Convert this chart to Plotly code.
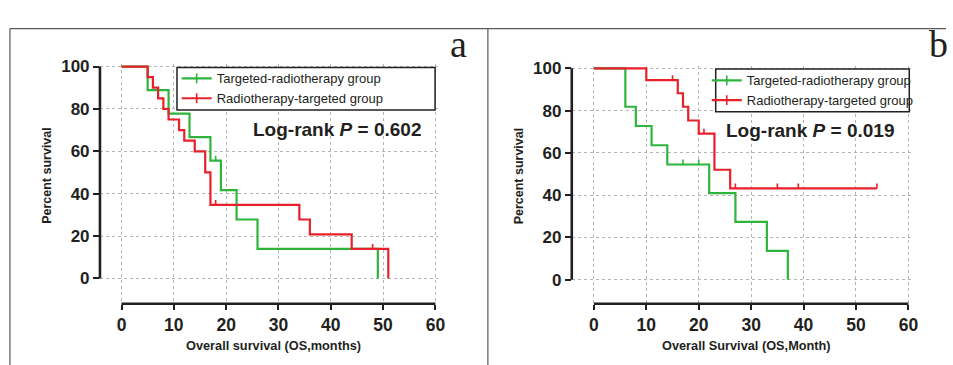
import plotly.graph_objects as go

W, H = 953, 365

# ---------------- data ----------------
# Panel a
a_green_t = [0, 5, 9, 13, 17, 19, 22, 26, 49]
a_green_s = [100, 88.9, 77.8, 66.7, 55.6, 41.7, 27.8, 13.9, 0]
a_green_cens_t = [18]
a_green_cens_s = [55.6]

a_red_t = [0, 5, 6, 7, 8, 9, 11, 12, 14, 16, 17, 34, 36, 44, 51]
a_red_s = [100, 95, 90, 85, 80, 75, 70, 65, 60, 50, 34.7, 27.8, 20.8, 13.9, 0]
a_red_cens_t = [18, 48]
a_red_cens_s = [34.7, 13.9]

# Panel b
b_green_t = [0, 6, 8, 11, 14, 22, 27, 33, 37]
b_green_s = [100, 81.8, 72.7, 63.6, 54.5, 40.9, 27.3, 13.6, 0]
b_green_cens_t = [17, 20]
b_green_cens_s = [54.5, 54.5]

b_red_t = [0, 10, 16, 17, 18, 20, 23, 26, 54]
b_red_s = [100, 94.4, 88.2, 81.8, 75.3, 69.1, 52.0, 43.2, 43.2]
b_red_cens_t = [15, 21, 27, 35, 39, 54]
b_red_cens_s = [94.4, 69.1, 43.2, 43.2, 43.2, 43.2]

series_names = ["Targeted-radiotherapy group", "Radiotherapy-targeted group"]
x_ticks = [0, 10, 20, 30, 40, 50, 60]
y_ticks = [0, 20, 40, 60, 80, 100]
pvals = ["0.602", "0.019"]
x_titles = ["Overall survival (OS,months)", "Overall Survival (OS,Month)"]
y_title = "Percent survival"
panel_letters = ["a", "b"]

# ---------------- styles ----------------
GREEN = "#2eb43c"
RED = "#e8202a"
INK = "#231f20"
GRID = "#b5b5b5"
SANS = "Liberation Sans, Arial, sans-serif"
SERIF = "Liberation Serif, Times New Roman, serif"


def px_x(p):
    return p / W


def px_y(p):
    return (H - p) / H


fig = go.Figure()

panels = [
    dict(xa="x", ya="y", green=(a_green_t, a_green_s, a_green_cens_t, a_green_cens_s),
         red=(a_red_t, a_red_s, a_red_cens_t, a_red_cens_s), legend="legend"),
    dict(xa="x2", ya="y2", green=(b_green_t, b_green_s, b_green_cens_t, b_green_cens_s),
         red=(b_red_t, b_red_s, b_red_cens_t, b_red_cens_s), legend="legend2"),
]

for p in panels:
    for (t, s, ct, cs), col, name in [(p["green"], GREEN, series_names[0]), (p["red"], RED, series_names[1])]:
        fig.add_trace(go.Scatter(x=t, y=s, mode="lines", line=dict(color=col, width=2.2, shape="hv"),
                                 xaxis=p["xa"], yaxis=p["ya"], showlegend=False, hoverinfo="skip"))
        fig.add_trace(go.Scatter(x=ct, y=cs, mode="markers",
                                 marker=dict(size=2, color="rgba(0,0,0,0)"),
                                 error_y=dict(type="data", symmetric=False, array=[2.3] * len(ct),
                                              arrayminus=[0] * len(ct), width=0, thickness=1.6, color=col),
                                 xaxis=p["xa"], yaxis=p["ya"], showlegend=False, hoverinfo="skip"))
        # legend entry (no data drawn)
        fig.add_trace(go.Scatter(x=[None], y=[None], mode="lines+markers", name=name,
                                 line=dict(color=col, width=2.2),
                                 marker=dict(symbol="line-ns-open", size=7, color=col, line=dict(width=1.6, color=col)),
                                 xaxis=p["xa"], yaxis=p["ya"], legend=p["legend"]))

# axis geometry (pixels)
geo = [
    dict(x0=122.4, sx=5.27, xl=100.7, y0=276.7, sy=2.16, yb=302.5),
    dict(x0=598.3, sx=5.28, xl=576.0, y0=278.0, sy=2.155, yb=302.5),
]

layout = dict(width=W, height=H, autosize=False, margin=dict(l=0, r=0, t=0, b=0),
              paper_bgcolor="white", plot_bgcolor="white", showlegend=True)

shapes = []
annotations = []
for i, g in enumerate(geo):
    xmin = (g["xl"] - g["x0"]) / g["sx"]
    xmax = 60.5
    right_px = g["x0"] + xmax * g["sx"]
    ymin = (g["y0"] - g["yb"]) / g["sy"]
    ymax = 101
    top_px = g["y0"] - ymax * g["sy"]
    xk = "xaxis" if i == 0 else "xaxis2"
    yk = "yaxis" if i == 0 else "yaxis2"
    xref = "x" if i == 0 else "x2"
    yref = "y" if i == 0 else "y2"
    layout[xk] = dict(domain=[px_x(g["xl"]), px_x(right_px)], range=[xmin, xmax], anchor=yref,
                      tickvals=x_ticks, ticks="outside", ticklen=5, tickwidth=2, tickcolor=INK,
                      showline=False, zeroline=False, showgrid=True, gridcolor=GRID, griddash="dot",
                      gridwidth=1,
                      tickfont=dict(family=SANS, size=17.5, color=INK, weight="bold"),
                      fixedrange=True)
    layout[yk] = dict(domain=[px_y(g["yb"]), px_y(top_px)], range=[ymin, ymax], anchor=xref,
                      tickvals=y_ticks, ticks="outside", ticklen=6, tickwidth=2, tickcolor=INK,
                      showline=False, zeroline=False, showgrid=True, gridcolor=GRID, griddash="dot",
                      gridwidth=1, tickfont=dict(family=SANS, size=17, color=INK, weight="bold"),
                      fixedrange=True)
    # offset axis lines spanning only the data range
    shapes.append(dict(type="line", xref=xref, yref=f"{yref} domain", x0=0, x1=60, y0=0, y1=0,
                       line=dict(color=INK, width=2.6), layer="above"))
    shapes.append(dict(type="line", xref=f"{xref} domain", yref=yref, x0=0, x1=0, y0=0, y1=100,
                       line=dict(color=INK, width=2.6), layer="above"))

# legend boxes
boxes = [(178.3, 61.7, 438.3, 105.0), (721.0, 63.3, 916.0, 106.7)]
for (l, t, r, b) in boxes:
    shapes.append(dict(type="rect", xref="paper", yref="paper", x0=px_x(l), x1=px_x(r), y0=px_y(b), y1=px_y(t),
                       line=dict(color=INK, width=1.5), fillcolor="white", layer="above"))

layout["legend"] = dict(x=px_x(178), y=px_y(57.5), xanchor="left", yanchor="top", bgcolor="rgba(0,0,0,0)",
                        borderwidth=0, font=dict(family=SANS, size=13, color=INK), tracegroupgap=0)
layout["legend2"] = dict(x=px_x(712), y=px_y(59.5), xanchor="left", yanchor="top", bgcolor="rgba(0,0,0,0)",
                         borderwidth=0, font=dict(family=SANS, size=13, color=INK), tracegroupgap=0)

# log-rank texts
for (xl, yc, p) in [(252.7, 125, pvals[0]), (729, 126, pvals[1])]:
    annotations.append(dict(xref="paper", yref="paper", x=px_x(xl), y=px_y(yc), xanchor="left", yanchor="middle",
                            text=f"Log-rank <i>P</i> = {p}", showarrow=False,
                            font=dict(family=SANS, size=19, color=INK, weight="bold")))

# axis titles
for (xc, title) in [(276, x_titles[0]), (752, x_titles[1])]:
    annotations.append(dict(xref="paper", yref="paper", x=px_x(xc), y=px_y(345), xanchor="center", yanchor="middle",
                            text=title, showarrow=False,
                            font=dict(family=SANS, size=12.75, color=INK, weight="bold")))
for xc in [47.5, 522.5]:
    annotations.append(dict(xref="paper", yref="paper", x=px_x(xc), y=px_y(172), xanchor="center", yanchor="middle",
                            text=y_title, textangle=-90, showarrow=False,
                            font=dict(family=SANS, size=12.5, color=INK, weight="bold")))

# panel letters
for (xc, letter) in [(462, panel_letters[0]), (945, panel_letters[1])]:
    annotations.append(dict(xref="paper", yref="paper", x=px_x(xc), y=px_y(61), xanchor="center", yanchor="bottom",
                            text=letter, showarrow=False, font=dict(family=SERIF, size=38, color=INK)))

# figure frame
FRAME = "#5a5a5a"
shapes.append(dict(type="line", xref="paper", yref="paper", x0=px_x(10), x1=1, y0=px_y(22), y1=px_y(22),
                   line=dict(color=FRAME, width=1.2)))
shapes.append(dict(type="line", xref="paper", yref="paper", x0=px_x(10), x1=px_x(10), y0=0, y1=px_y(22),
                   line=dict(color=FRAME, width=1.2)))
shapes.append(dict(type="line", xref="paper", yref="paper", x0=px_x(491.5), x1=px_x(491.5), y0=0, y1=px_y(22),
                   line=dict(color=FRAME, width=1.2)))

layout["shapes"] = shapes
layout["annotations"] = annotations
fig.update_layout(**layout)

fig.write_html("out.html", config={"displayModeBar": False},
               post_script="document.body.style.margin='0';document.body.style.overflow='hidden';")
